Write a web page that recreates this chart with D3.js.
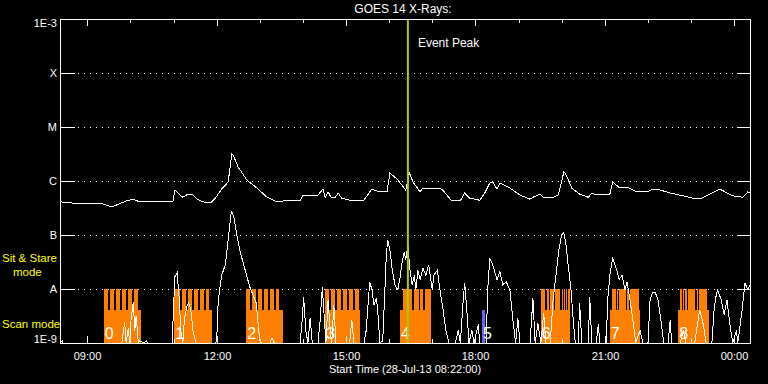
<!DOCTYPE html>
<meta charset="utf-8">
<script src="https://d3js.org/d3.v7.min.js"></script>
<style>
  body { margin: 0; background: #000; }
  text { font-family: "Liberation Sans", Arial, sans-serif; fill: #fff; }
</style>
<div id="chart"></div>
<script>

// ---- data (time = minutes after 28-Jul-13 08:22) ----
var longChannel = [
  [1,4.1e-7],[18,3.9e-7],[32,3.8e-7],[56,3.9e-7],[72,3.3e-7],[83,3.8e-7],[93,4.3e-7],[102,4.6e-7],
  [111,4.1e-7],[125,4.1e-7],[139,4.1e-7],[157,4.1e-7],[160,6.8e-7],[167,5.5e-7],[171,5.0e-7],[178,5.7e-7],
  [184,5.7e-7],[191,4.6e-7],[199,4.1e-7],[209,3.9e-7],[216,4.8e-7],[225,7.1e-7],[234,9.6e-7],[239,3.2e-6],
  [241,3.0e-6],[248,1.8e-6],[260,1.04e-6],[274,7.4e-7],[288,5.0e-7],[302,4.1e-7],[316,4.4e-7],[324,4.3e-7],
  [334,4.3e-7],[338,5.5e-7],[352,5.3e-7],[359,5.5e-7],[366,7.1e-7],[369,5.0e-7],[373,6.3e-7],[377,5.0e-7],
  [383,5.0e-7],[387,6.0e-7],[392,4.8e-7],[403,4.4e-7],[422,4.3e-7],[434,7.1e-7],[441,6.5e-7],[455,6.3e-7],
  [459,1.4e-6],[469,1.09e-6],[481,6.8e-7],[486,1.4e-6],[488,1.24e-6],[491,9.6e-7],[501,6.3e-7],[505,7.4e-7],
  [519,7.4e-7],[531,7.1e-7],[536,6.0e-7],[545,4.3e-7],[557,4.3e-7],[563,6.0e-7],[570,4.8e-7],[584,4.4e-7],
  [591,6.0e-7],[598,9.2e-7],[602,9.6e-7],[608,7.1e-7],[612,9.2e-7],[626,7.4e-7],[640,5.5e-7],[654,4.6e-7],
  [658,5.0e-7],[668,5.7e-7],[672,5.0e-7],[686,5.0e-7],[693,5.5e-7],[698,9.6e-7],[701,1.5e-6],[705,1.24e-6],
  [712,7.4e-7],[723,5.7e-7],[735,5.0e-7],[740,6.0e-7],[747,5.5e-7],[765,5.7e-7],[769,9.6e-7],[779,7.4e-7],
  [789,7.7e-7],[803,6.3e-7],[817,6.3e-7],[825,7.1e-7],[835,6.8e-7],[849,6.0e-7],[867,5.3e-7],[881,4.8e-7],
  [893,4.8e-7],[904,5.7e-7],[918,7.1e-7],[928,6.0e-7],[936,5.3e-7],[950,5.0e-7],[957,6.3e-7],[960,6.0e-7]
];

var shortChannel = [
  [0,1e-9],[3,1.1e-9],[4,1e-9],[56,1e-9],[86,1e-9],[90,2.4e-9],[92,1e-9],[95,1.9e-9],[97,1e-9],[99,2.9e-9],
  [102,5.7e-9],[104,1.7e-9],[106,3.2e-9],[109,1e-9],[111,1.1e-9],[117,1e-9],[120,1.1e-9],[122,1e-9],
  [156,1e-9],[159,9.6e-9],[160,1.7e-8],[163,2.0e-8],[166,6.3e-9],[168,1.7e-9],[171,1e-9],[173,2.7e-9],
  [177,5.0e-9],[179,5.5e-9],[182,4.1e-9],[185,1.7e-9],[189,1e-9],[216,1e-9],[218,1.1e-9],[220,5.5e-9],
  [223,1.2e-8],[225,1.8e-8],[230,2.8e-8],[234,8.1e-8],[238,2.5e-7],[239,2.7e-7],[242,2.1e-7],[246,1.0e-7],
  [250,5.3e-8],[257,2.4e-8],[264,1.1e-8],[273,5.5e-9],[275,2.7e-9],[278,1.1e-9],[281,1e-9],[292,1e-9],
  [295,1.24e-9],[298,1e-9],[334,1e-9],[337,2.7e-9],[339,7.1e-9],[342,1.7e-9],[345,1e-9],[348,2.9e-9],
  [351,1e-9],[359,1e-9],[362,2.7e-9],[365,1.1e-8],[367,4.1e-9],[370,1e-9],[373,6.3e-9],[376,1.7e-9],
  [378,1e-9],[381,5.0e-9],[384,1e-9],[403,1e-9],[406,2.7e-9],[409,1e-9],[423,1e-9],[426,1.7e-9],
  [429,6.3e-9],[431,1.35e-8],[434,9.6e-9],[437,5.0e-9],[440,6.8e-9],[442,4.1e-9],[445,1e-9],[449,1.1e-9],
  [452,9.6e-9],[454,4.3e-8],[456,8.1e-8],[459,5.3e-8],[462,2.4e-8],[466,1.2e-8],[470,9.6e-9],[473,1.6e-8],
  [476,3.2e-8],[479,4.8e-8],[481,3.4e-8],[484,6.5e-8],[487,2.2e-8],[490,1.2e-8],[493,1.8e-8],[495,9.6e-9],
  [498,2.2e-8],[501,1.5e-8],[505,2.4e-8],[509,1.8e-8],[513,2.8e-8],[518,9.6e-9],[520,1.8e-8],[525,2.2e-8],
  [529,8.8e-9],[533,4.1e-9],[537,1.7e-9],[541,1e-9],[550,1e-9],[554,1.7e-9],[557,1e-9],[561,6.3e-9],
  [563,1.3e-8],[566,4.1e-9],[569,1e-9],[573,1.7e-9],[576,1e-9],[582,2.2e-9],[584,1e-9],[593,1e-9],
  [595,9.6e-9],[598,3.7e-8],[602,2.8e-8],[608,1.5e-8],[612,2.1e-8],[616,1.2e-8],[621,1.35e-8],[626,9.6e-9],
  [630,2.7e-9],[634,1e-9],[637,2.9e-9],[640,1e-9],[654,1e-9],[658,6.8e-9],[661,1e-9],[665,2.3e-9],
  [669,1e-9],[673,3.6e-9],[676,1e-9],[682,1e-9],[686,6.3e-9],[690,1.8e-8],[694,5.3e-8],[698,1.0e-7],
  [701,1.1e-7],[704,6.5e-8],[707,2.8e-8],[711,9.6e-9],[714,2.7e-9],[717,1e-9],[721,1e-9],[723,5.5e-9],
  [726,1e-9],[735,1e-9],[737,7.1e-9],[740,1e-9],[746,1e-9],[749,2.2e-9],[751,1e-9],[760,1e-9],
  [762,6.3e-9],[765,1.8e-8],[769,3.7e-8],[774,2.4e-8],[778,1.5e-8],[782,1.8e-8],[786,9.6e-9],[789,1.35e-8],
  [793,6.3e-9],[797,2.7e-9],[801,1e-9],[807,1.7e-9],[811,1e-9],[818,1e-9],[821,6.3e-9],[824,8.4e-9],
  [828,8.8e-9],[832,6.3e-9],[836,2.7e-9],[840,1e-9],[846,1e-9],[849,2.7e-9],[851,1e-9],[863,1e-9],
  [867,1.7e-9],[871,1e-9],[883,1e-9],[890,4.1e-9],[895,2.2e-9],[899,1e-9],[907,1e-9],[910,4.1e-9],
  [913,7.7e-9],[915,9.6e-9],[920,6.3e-9],[924,3.3e-9],[928,6.3e-9],[932,2.2e-9],[936,1e-9],[941,1.7e-9],
  [943,1e-9],[949,4.1e-9],[953,1.3e-8],[957,9.6e-9],[960,1.2e-8]
];

// observing blocks (scan mode) and their sit & stare sub-intervals
var blockNames = ["0","1","2","3","4","5","6","7","8"];
var scanBlocks = [[61,113],[159,211],[259,310],[369,417],[473,516],[587,591],[669,710],[765,807],[860,903]];
var sitStare = [
  [[61,67],[70,75],[78,83],[86,92],[95,100],[103,109]],
  [[159,167],[170,175],[178,184],[186,192],[195,200],[203,207]],
  [[259,264],[267,273],[275,281],[284,289],[292,298],[301,305]],
  [[369,374],[377,383],[385,391],[394,399],[402,408],[410,416]],
  [[477,490],[493,499],[501,505],[508,516]],
  [],
  [[669,675],[677,680],[682,684],[685,687],[689,696],[698,699],[701,703],[704,706],[707,710]],
  [[768,774],[775,777],[778,780],[781,784],[785,787],[789,792],[793,805]],
  [[862,865],[867,868],[869,873],[874,880],[881,884],[886,888],[889,900]]
];
var scanLevel = 4.1e-9, sitStareLevel = 1e-8;
var eventPeak = 484;

var levelValues = [1e-3,1e-4,1e-5,1e-6,1e-7,1e-8,1e-9];
var levelNames  = ["1E-3","X","M","C","B","A","1E-9"];

// ---- layout ----
var W = 768, H = 384;
var pl = 60, pr = 750, pt = 19, pb = 343;
var start = Date.UTC(2013, 6, 28, 8, 22);
function t(m) { return new Date(start + m * 60000); }

var svg = d3.select("#chart").append("svg")
  .attr("width", W).attr("height", H)
  .style("background", "#000");

var x = d3.scaleUtc().domain([t(0), t(960)]).range([pl, pr]);
var y = d3.scaleLog().domain([1e-9, 1e-3]).range([pb, pt]);

// grid lines at the class levels
levelValues.slice(1, -1).forEach(function(v) {
  var yy = Math.round(y(v)) + 0.5;
  svg.append("line").attr("x1", pl).attr("x2", pl + 15).attr("y1", yy).attr("y2", yy)
    .attr("stroke", "#fff");
  svg.append("line").attr("x1", pr - 13).attr("x2", pr).attr("y1", yy).attr("y2", yy)
    .attr("stroke", "#fff");
  svg.append("line").attr("x1", pl + 18).attr("x2", pr - 13).attr("y1", yy).attr("y2", yy)
    .attr("stroke", "#fff").attr("stroke-dasharray", "1,5");
});

// observing blocks
var blocks = svg.append("g").attr("shape-rendering", "crispEdges");
scanBlocks.forEach(function(b, i) {
  var col = i === 5 ? "#6464ff" : "#ff8000";
  blocks.append("rect")
    .attr("x", x(t(b[0]))).attr("width", Math.max(2, x(t(b[1])) - x(t(b[0]))))
    .attr("y", y(scanLevel)).attr("height", pb - y(scanLevel))
    .attr("fill", col);
  sitStare[i].forEach(function(s) {
    blocks.append("rect")
      .attr("x", x(t(s[0]))).attr("width", Math.max(1, x(t(s[1])) - x(t(s[0]))))
      .attr("y", y(sitStareLevel)).attr("height", pb - y(sitStareLevel))
      .attr("fill", col);
  });
});

// flux curves (aliased, like the original plot)
var line = d3.line()
  .x(function(d) { return x(t(d[0])); })
  .y(function(d) { return y(d[1]); });

svg.append("path").datum(longChannel).attr("d", line)
  .attr("fill", "none").attr("stroke", "#fff").attr("stroke-width", 1)
  .attr("shape-rendering", "crispEdges");
svg.append("path").datum(shortChannel).attr("d", line)
  .attr("fill", "none").attr("stroke", "#fff").attr("stroke-width", 1)
  .attr("shape-rendering", "crispEdges");

// block numbers
scanBlocks.forEach(function(b, i) {
  svg.append("text").text(blockNames[i])
    .attr("x", x(t(b[0])) + 1).attr("y", 339)
    .attr("font-size", 16).attr("font-weight", 300);
});

// event peak marker
svg.append("line")
  .attr("x1", x(t(eventPeak))).attr("x2", x(t(eventPeak)))
  .attr("y1", pt).attr("y2", pb)
  .attr("stroke", "#a0d000").attr("stroke-width", 2);
svg.append("text").text("Event Peak")
  .attr("x", x(t(eventPeak)) + 10).attr("y", 47).attr("font-size", 12);

// frame
svg.append("rect").attr("x", pl + 0.5).attr("y", pt + 0.5)
  .attr("width", pr - pl).attr("height", pb - pt)
  .attr("fill", "none").attr("stroke", "#fff");

// time ticks, top and bottom
var hours = x.ticks(d3.utcHour.every(1));
hours.forEach(function(h) {
  var xx = Math.round(x(h)) + 0.5;
  var len = h.getUTCHours() % 3 === 0 ? 7 : 4;
  svg.append("line").attr("x1", xx).attr("x2", xx).attr("y1", pt).attr("y2", pt + len).attr("stroke", "#fff");
  svg.append("line").attr("x1", xx).attr("x2", xx).attr("y1", pb).attr("y2", pb - len).attr("stroke", "#fff");
  if (h.getUTCHours() % 3 === 0) {
    svg.append("text").text(d3.utcFormat("%H:%M")(h))
      .attr("x", xx).attr("y", 360).attr("text-anchor", "middle").attr("font-size", 11);
  }
});

// class labels on the left
var labelDy = [8, 4, 4, 4, 4, 4, 0];
levelValues.forEach(function(v, i) {
  svg.append("text").text(levelNames[i])
    .attr("x", 57).attr("y", y(v) + labelDy[i])
    .attr("text-anchor", "end").attr("font-size", 11);
});

// titles
svg.append("text").text("GOES 14 X-Rays:")
  .attr("x", 403).attr("y", 13).attr("text-anchor", "middle").attr("font-size", 12);
svg.append("text").text("Start Time (28-Jul-13 08:22:00)")
  .attr("x", 405).attr("y", 373).attr("text-anchor", "middle").attr("font-size", 11);

// mode legend
svg.append("text").text("Sit & Stare").attr("x", 2).attr("y", 262)
  .attr("font-size", 11.5).style("fill", "#ffff00");
svg.append("text").text("mode").attr("x", 13).attr("y", 276)
  .attr("font-size", 11.5).style("fill", "#ffff00");
svg.append("text").text("Scan mode").attr("x", 2).attr("y", 328)
  .attr("font-size", 11.5).style("fill", "#ffff00");

</script>
